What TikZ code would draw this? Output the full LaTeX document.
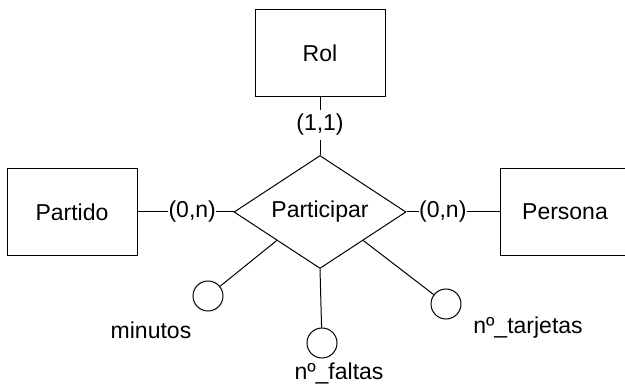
\documentclass[tikz,border=0pt]{standalone}
\usepackage{fontspec}
\setmainfont{Liberation Sans}
\usetikzlibrary{shapes.geometric,calc}
\begin{document}
\begin{tikzpicture}[x=1pt,y=-1pt,
  line width=1pt,
  every node/.style={font=\fontsize{23}{27}\selectfont},
  entity/.style={draw,rectangle,minimum width=130pt,minimum height=87pt,inner sep=0pt},
  relation/.style={draw,diamond,aspect=1.52,minimum width=172pt,minimum height=113pt,inner sep=0pt},
  attr/.style={draw,circle,minimum size=30pt,inner sep=0pt},
  card/.style={fill=white,inner xsep=0.5pt,inner ysep=4pt},
  plain/.style={inner sep=0pt}]
\clip (0,0) rectangle (625,385);
\fill[white] (0,0) rectangle (625,385);

% entities and relationship
\node[entity] (rol) at (320,53) {Rol};
\node[entity] (partido) at (72,212) {Partido};
\node[entity] (persona) at (565,212) {Persona};
\node[relation] (part) at (320,212) {Participar};

% attributes
\node[attr] (cmin) at (208,296) {};
\node[attr] (cfal) at (322,343) {};
\node[attr] (ctar) at (446,304) {};
\node[plain] (lmin) at (151,330) {minutos};
\node[plain] (lfal) at (339,373) {nº\_faltas};
\node[plain] (ltar) at (528,328) {nº\_tarjetas};

% attachment points on the diamond edges
\coordinate (pl) at ($(part.west)!0.5!(part.south)$);
\coordinate (pr) at ($(part.east)!0.5!(part.south)$);

% connectors with cardinalities
\draw (rol.south) -- node[card,pos=0.48] (k1) {(1,1)} (part.north);
\draw (partido.east) -- node[card,pos=0.57] (k2) {(0,n)} (part.west);
\draw (part.east) -- node[card,pos=0.39] (k3) {(0,n)} (persona.west);

\draw (pl) -- (cmin);
\draw (part.south) -- (cfal);
\draw (pr) -- (ctar);
\end{tikzpicture}
\end{document}
